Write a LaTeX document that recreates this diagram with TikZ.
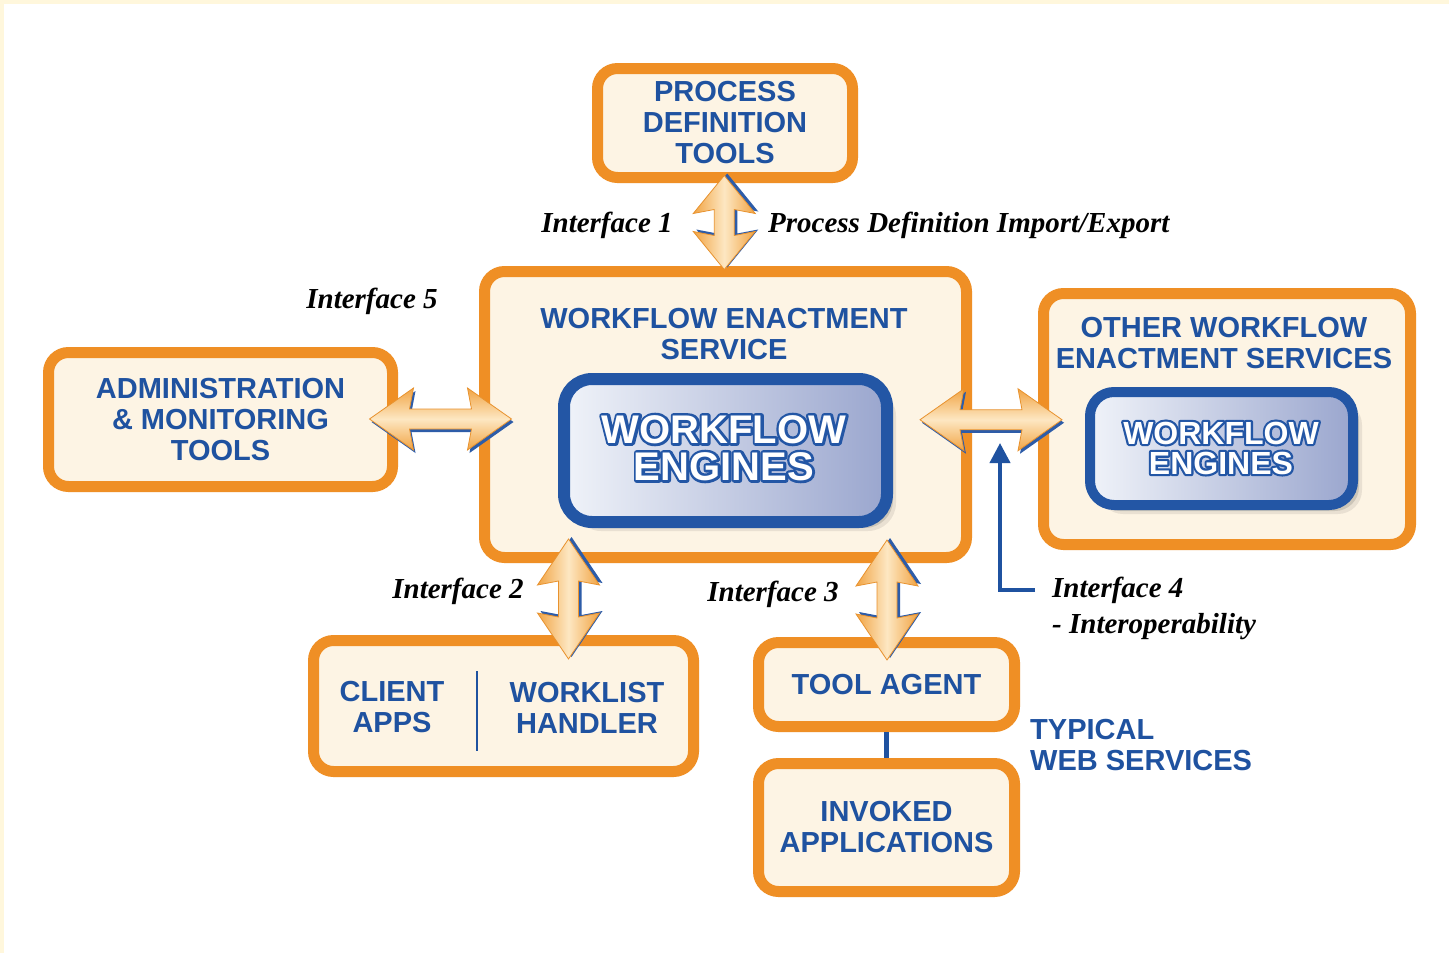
\documentclass[tikz,border=0pt]{standalone}
\usepackage{fontspec}
\setmainfont{Liberation Sans}
\newfontfamily\ifacefont{Liberation Serif}
\usetikzlibrary{calc,arrows.meta,shadows}
\definecolor{frm}{HTML}{FFF7DC}
\definecolor{orng}{HTML}{EF8F25}
\definecolor{crm}{HTML}{FDF4E4}
\definecolor{tblue}{HTML}{1F52A0}
\definecolor{eblue}{HTML}{2356A5}
\definecolor{engL}{HTML}{F0F3F9}
\definecolor{engR}{HTML}{9AA6CE}
\definecolor{arrO}{HTML}{F1A444}
\definecolor{arrL}{HTML}{FDE7C2}
\definecolor{arrE}{HTML}{E8922E}
\definecolor{arrS}{HTML}{2D5CA8}

% stroke-only text rendering (outline layer)
\newcommand\strokeon[1]{\special{pdf:literal direct 1 Tr #1 w 1 j 0.137 0.337 0.647 RG}}
\newcommand\strokeoff{\special{pdf:literal direct 0 Tr}}

\tikzset{
 obox/.style={draw=orng, line width=11pt, fill=crm, rounded corners=20pt, align=center, text=tblue, inner sep=0pt, font=\bfseries\fontsize{29pt}{31pt}\selectfont},
 eshadow/.style={drop shadow={shadow xshift=3pt,shadow yshift=-3pt,opacity=.15,fill=black},
                 drop shadow={shadow xshift=6pt,shadow yshift=-6pt,opacity=.12,fill=black},
                 drop shadow={shadow xshift=9pt,shadow yshift=-9pt,opacity=.08,fill=black}},
 ebox/.style={eshadow, draw=eblue, line width=12pt, left color=engL, right color=engR, rounded corners=28pt, inner sep=0pt},
 btext/.style={text=tblue, align=center, inner sep=0pt, font=\bfseries\fontsize{29pt}{31pt}\selectfont},
 iface/.style={text=black, inner sep=0pt, font=\ifacefont\bfseries\itshape\fontsize{29pt}{36pt}\selectfont},
 wtext/.style={text=white, align=center, inner sep=0pt},
 bline/.style={draw=tblue, line width=4pt},
}

\newcommand\hdbl[3]{%
 \begin{scope}[shift={#1}]
  \begin{scope}[shift={(2,3)}]
   \fill[arrS] (-#2,0) -- (-#2+#3+4,-31) -- (-#2+#3,-10) -- (#2-#3,-10) -- (#2-#3-4,-31) -- (#2,0) -- (#2-#3-4,31) -- (#2-#3,10) -- (-#2+#3,10) -- (-#2+#3+4,31) -- cycle;
  \end{scope}
  \shade[top color=arrO, bottom color=arrO, middle color=arrL, draw=arrE, line width=0.8pt] (-#2,0) -- (-#2+#3+4,-31) -- (-#2+#3,-10) -- (#2-#3,-10) -- (#2-#3-4,-31) -- (#2,0) -- (#2-#3-4,31) -- (#2-#3,10) -- (-#2+#3,10) -- (-#2+#3+4,31) -- cycle;
 \end{scope}}
\newcommand\vdbl[3]{%
 \begin{scope}[shift={#1}]
  \begin{scope}[shift={(3,-2)}]
   \fill[arrS] (0,-#2) -- (-31,-#2+#3+4) -- (-10,-#2+#3) -- (-10,#2-#3) -- (-31,#2-#3-4) -- (0,#2) -- (31,#2-#3-4) -- (10,#2-#3) -- (10,-#2+#3) -- (31,-#2+#3+4) -- cycle;
  \end{scope}
  \shade[left color=arrO, right color=arrO, middle color=arrL, draw=arrE, line width=0.8pt] (0,-#2) -- (-31,-#2+#3+4) -- (-10,-#2+#3) -- (-10,#2-#3) -- (-31,#2-#3-4) -- (0,#2) -- (31,#2-#3-4) -- (10,#2-#3) -- (10,-#2+#3) -- (31,-#2+#3+4) -- cycle;
 \end{scope}}

\begin{document}
\begin{tikzpicture}[x=1pt,y=-1pt]
\useasboundingbox (0,0) rectangle (1449,953);
\fill[white] (0,0) rectangle (1449,953);
\fill[frm] (0,0) rectangle (1449,4);
\fill[frm] (0,0) rectangle (4,953);

% boxes
\node[obox, minimum width=255pt, minimum height=109pt] (pdt) at (725,123) {PROCESS\\DEFINITION\\TOOLS};
\node[obox, minimum width=482pt, minimum height=286pt] (wes) at (725.5,414.5) {};
\node[obox, minimum width=344pt, minimum height=134pt] (adm) at (220.5,419.5) {ADMINISTRATION\\\& MONITORING\\TOOLS};
\node[obox, minimum width=367pt, minimum height=251pt] (oth) at (1227,419) {};
\node[obox, minimum width=380pt, minimum height=131pt] (cli) at (503.5,706) {};
\node[obox, minimum width=256pt, minimum height=84pt] (tag) at (886.5,684.5) {TOOL AGENT};
\node[obox, minimum width=256pt, minimum height=128pt] (inv) at (886.5,827.5) {INVOKED\\APPLICATIONS};

% titles
\node[btext] (westitle) at (724,334) {WORKFLOW ENACTMENT\\SERVICE};
\node[btext] (othtitle) at (1224,343.5) {OTHER WORKFLOW\\ENACTMENT SERVICES};
\node[btext] (clitext) at (392,707.5) {CLIENT\\APPS};
\node[btext] (wltext) at (587,707.5) {WORKLIST\\HANDLER};
\draw[tblue, line width=2pt] (477,671) -- (477,751);
\node[btext, anchor=west, align=left] (typ) at (1030,745.5) {TYPICAL\\WEB SERVICES};

% engines
\node[ebox, minimum width=323pt, minimum height=143pt] (eng) at (725.5,450.5) {};
\node[ebox, line width=10pt, rounded corners=24pt, minimum width=263pt, minimum height=113pt] (eng2) at (1221.5,448.5) {};
\node[wtext, font={\bfseries\fontsize{40pt}{37pt}\selectfont}] (engout) at (724,448) {\strokeon{5.2}WORKFLOW\\ENGINES\strokeoff};
\node[wtext, font={\bfseries\fontsize{40pt}{37pt}\selectfont}] (engtxt) at (engout.center) {WORKFLOW\\ENGINES};
\node[wtext, font={\bfseries\fontsize{32pt}{30pt}\selectfont}] (eng2out) at (1221,448) {\strokeon{4.4}WORKFLOW\\ENGINES\strokeoff};
\node[wtext, font={\bfseries\fontsize{32pt}{30pt}\selectfont}] (eng2txt) at (eng2out.center) {WORKFLOW\\ENGINES};

% connectors
\draw[bline, line width=5pt] (tag.south) -- (inv.north);

% interface labels
\node[iface, anchor=base] (if1) at (607,232) {Interface 1};
\node[iface, anchor=base west] (pdie) at (768,232) {Process Definition Import/Export};
\node[iface, anchor=base] (if5) at (372,308) {Interface 5};
\node[iface, anchor=base] (if2) at (458,598) {Interface 2};
\node[iface, anchor=base] (if3) at (773,601) {Interface 3};
\node[iface, anchor=base west] (if4) at (1052,597) {Interface 4};
\node[iface, anchor=base west] (if4b) at (1052,633) {- Interoperability};

\coordinate (i4tip) at (1000,443);
\draw[bline, -{Triangle[width=20pt,length=20pt]}] ([xshift=-17pt]if4.west) -| (i4tip);

% double arrows
\hdbl{($(adm.east)!0.5!(wes.west)+(2,2)$)}{71}{40}
\hdbl{($(wes.east)!0.5!(oth.west)+(-14,3)$)}{71}{40}
\vdbl{($(pdt.south)!0.5!(wes.north)+(-1,-2)$)}{47}{34}
\vdbl{($(wes.south)!0.5!(cli.north)+(-46,0)$)}{60}{42}
\vdbl{($(wes.south)!0.5!(tag.north)+(81,0)$)}{60}{42}
\end{tikzpicture}
\end{document}
